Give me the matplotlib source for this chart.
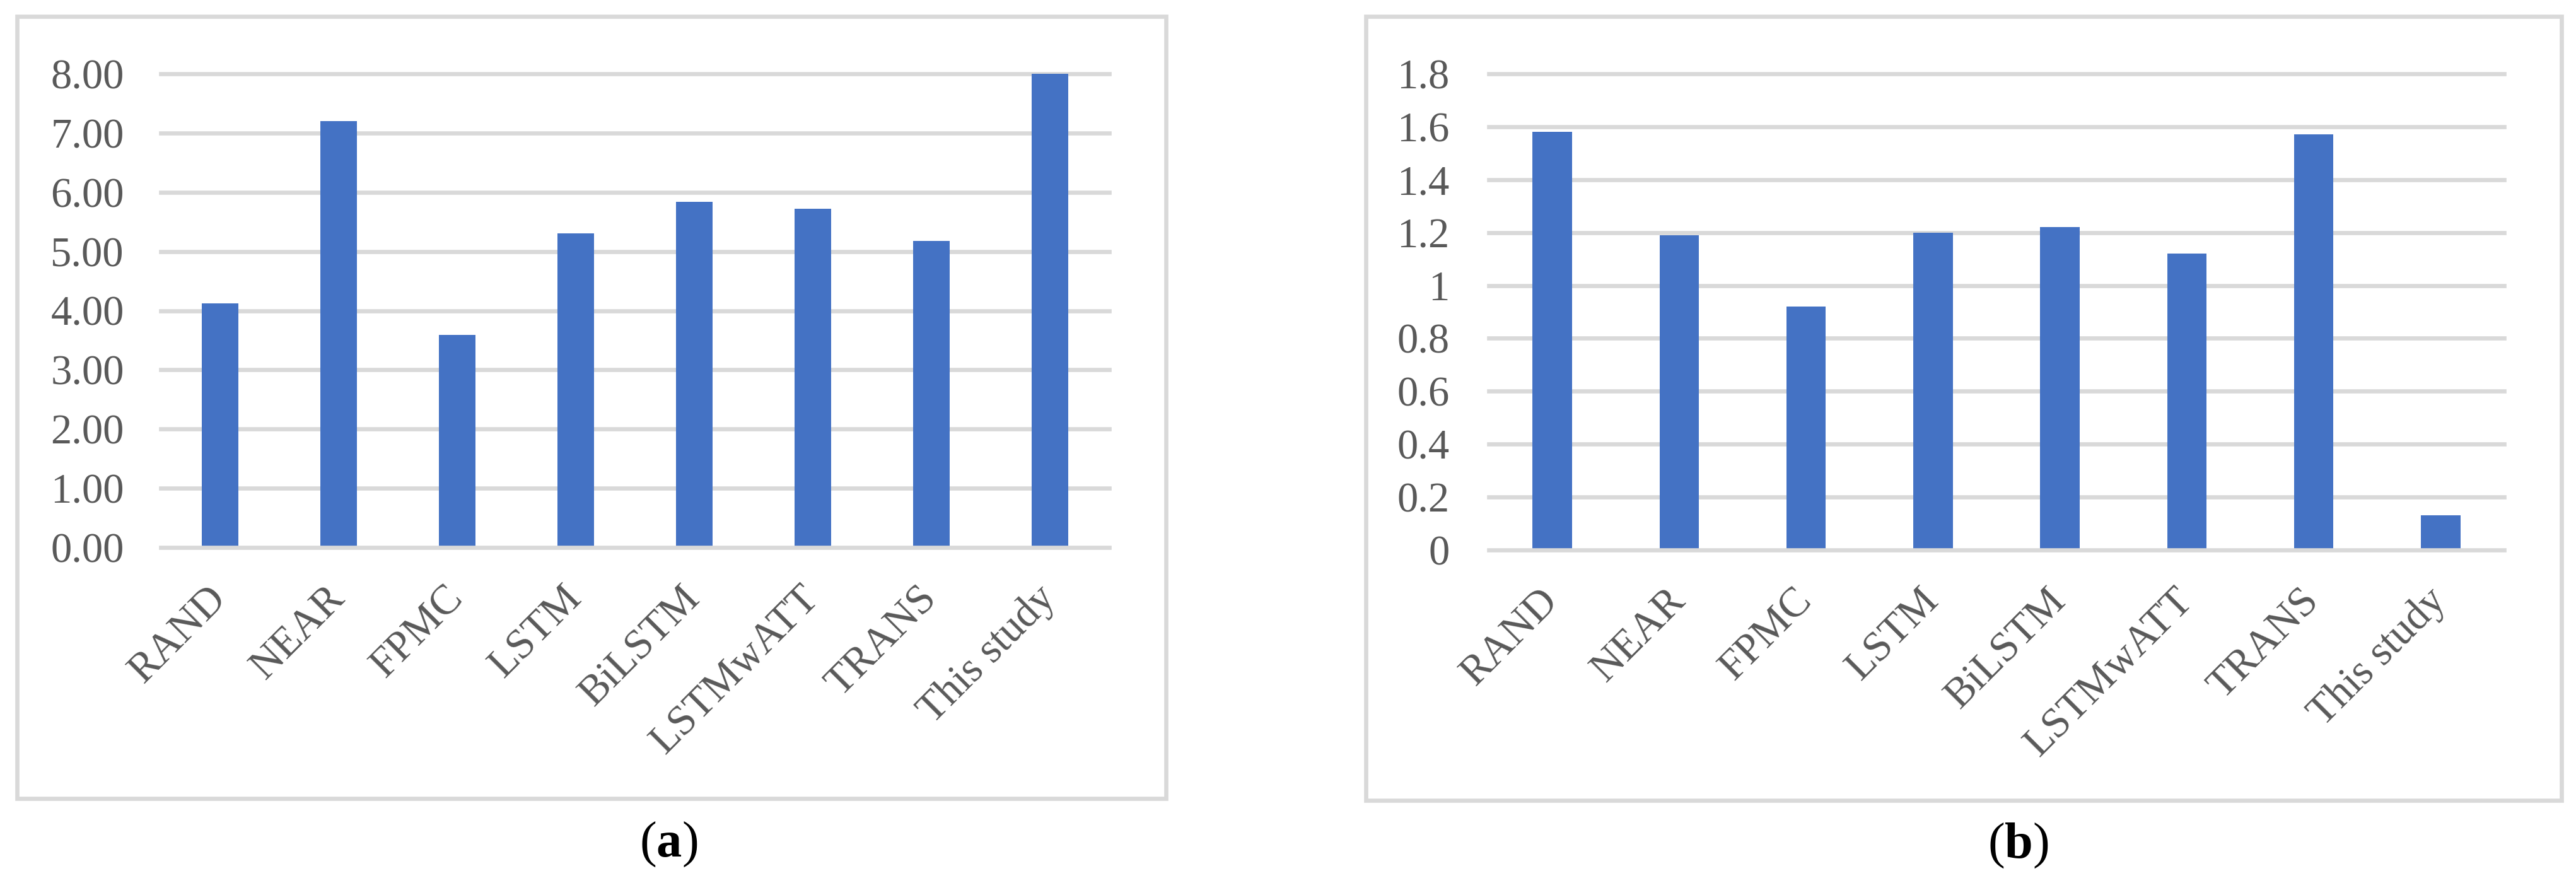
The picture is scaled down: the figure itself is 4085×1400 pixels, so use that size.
import matplotlib
matplotlib.use('Agg')
import matplotlib.pyplot as plt
import matplotlib.transforms as mtransforms
from matplotlib.patches import Rectangle

# data
models = ['RAND', 'NEAR', 'FPMC', 'LSTM', 'BiLSTM', 'LSTMwATT', 'TRANS', 'This study']
values_a = [4.12, 7.20, 3.59, 5.31, 5.84, 5.72, 5.18, 8.00]
values_b = [1.58, 1.19, 0.92, 1.20, 1.22, 1.12, 1.57, 0.13]
ticks_a = [0, 1, 2, 3, 4, 5, 6, 7, 8]
ticks_b = [0, 0.2, 0.4, 0.6, 0.8, 1.0, 1.2, 1.4, 1.6, 1.8]
labels_a = ['%.2f' % t for t in ticks_a]
labels_b = ['0', '0.2', '0.4', '0.6', '0.8', '1', '1.2', '1.4', '1.6', '1.8']

plt.rcParams['font.family'] = ['Liberation Serif', 'DejaVu Serif']
plt.rcParams['mathtext.fontset'] = 'custom'
plt.rcParams['mathtext.rm'] = 'Liberation Serif'
plt.rcParams['mathtext.bf'] = 'Liberation Serif:bold'

BAR = '#4472C4'
GRID = '#D9D9D9'
TXT = '#595959'
W, H = 4085, 1400
dpi = 100

fig = plt.figure(figsize=(W / dpi, H / dpi), dpi=dpi)


def px_box(x0, y0, x1, y1):
    """pixel box (top-left origin) -> figure fraction [l, b, w, h]"""
    return [x0 / W, 1 - y1 / H, (x1 - x0) / W, (y1 - y0) / H]


def panel(axbox, frame, vals, ticks, ticklabels, ymax, ypad, caption, cap_xy):
    # light grey frame around the whole chart
    l, b, w, h = px_box(*frame)
    fig.patches.append(Rectangle((l, b), w, h, transform=fig.transFigure,
                                 fill=False, edgecolor=GRID, linewidth=4.8))
    ax = fig.add_axes(px_box(*axbox))
    x = range(len(vals))
    ax.bar(x, vals, width=0.31, color=BAR, zorder=2)
    for t in ticks:
        ax.axhline(t, color=GRID, linewidth=4.8, zorder=1 if t > 0 else 3,
                   clip_on=False)
    ax.set_xlim(-0.5, len(vals) - 0.5)
    ax.set_ylim(0, ymax)
    ax.set_yticks(ticks)
    ax.set_yticklabels(ticklabels)
    ax.set_xticks(list(x))
    ax.set_xticklabels(models, rotation=45, ha='right', rotation_mode='anchor')
    ax.tick_params(axis='y', length=0, pad=ypad, labelsize=48, labelcolor=TXT)
    ax.tick_params(axis='x', length=0, pad=36, labelsize=48, labelcolor=TXT)
    # nudge rotated labels so their ends sit under the bar centres
    shift = mtransforms.ScaledTranslation(-22 / dpi, 0, fig.dpi_scale_trans)
    for lab in ax.get_xticklabels():
        lab.set_transform(lab.get_transform() + shift)
    for s in ax.spines.values():
        s.set_visible(False)
    fig.text(cap_xy[0] / W, 1 - cap_xy[1] / H, caption, fontsize=58,
             ha='center', va='center', color='black')
    return ax


panel((255, 117, 1759, 868), (27, 26, 1849, 1266), values_a, ticks_a, labels_a,
      8, 42, r'($\mathbf{a}$)', (1060, 1339))
panel((2361, 117, 3971, 872), (2166, 26, 4062, 1269), values_b, ticks_b, labels_b,
      1.8, 45, r'($\mathbf{b}$)', (3200, 1341))

fig.savefig('out.png', dpi=dpi)
